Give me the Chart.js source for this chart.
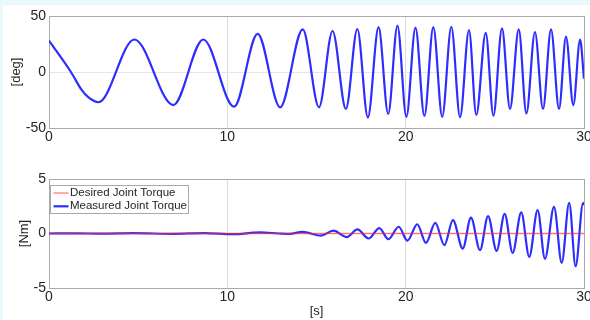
<!DOCTYPE html>
<html>
<head>
<meta charset="utf-8">
<script src="https://cdn.jsdelivr.net/npm/chart.js@4.4.1/dist/chart.umd.min.js"></script>
<style>
html,body{margin:0;padding:0;width:590px;height:320px;overflow:hidden;background:#e9f9fc;}
#sheet{position:absolute;left:3px;top:5px;width:587px;height:315px;background:#ffffff;}
canvas{position:absolute;left:0;}
#angleChart{top:0;}
#torqueChart{top:150px;}
</style>
</head>
<body>
<div id="sheet"></div>
<canvas id="angleChart" width="590" height="150"></canvas>
<canvas id="torqueChart" width="590" height="170"></canvas>
<script>
// ---- data ----
const timeTicks = [0, 10, 20, 30];
const angleTicks = [-50, 0, 50];
const torqueTicks = [-5, 0, 5];

// joint angle [deg]: turning points of the trajectory
const angleTime = [0, 1.23, 1.83, 2.2, 2.77, 4.79, 6.97, 8.65, 10.38, 11.7, 12.96, 14.23, 15.14, 15.9, 16.65,
  17.29, 17.88, 18.48, 19.02, 19.54, 20.04, 20.55, 21.05, 21.55, 22.05, 22.56, 23.05, 23.55, 23.96,
  24.49, 24.92, 25.4, 25.85, 26.34, 26.77, 27.25, 27.7, 28.15, 28.6, 28.99, 29.4, 29.78, 30];
const angleDeg = [28, 0, -16, -22.5, -27, 29, -29.5, 29, -31, 34, -31.5, 38, -31.5, 36.6, -33,
  38.4, -40.5, 40, -37.5, 41.4, -40, 39.6, -39.3, 40, -40, 40.4, -40.5, 37.5, -38.4,
  35, -39, 39, -33, 38, -37, 35.7, -33, 38, -33, 31.5, -29.5, 29, -6];

// measured joint torque [Nm]
const torqueTime = [0, 1.5, 3, 4.7, 7, 8.7, 10.3, 11.83, 12.9, 13.5, 14.2, 15.25, 15.95, 16.7, 17.3,
  17.92, 18.52, 19.03, 19.61, 20.1, 20.65, 21.14, 21.66, 22.17, 22.65, 23.2, 23.66, 24.17, 24.62,
  25.1, 25.55, 26, 26.48, 26.93, 27.4, 27.81, 28.32, 28.75, 29.17, 29.53, 29.95, 30];
const measuredTorque = [0, 0.02, -0.02, 0.03, -0.03, 0.04, -0.06, 0.1, 0, -0.04, 0.15, -0.2, 0.26, -0.33, 0.37,
  -0.46, 0.5, -0.52, 0.62, -0.66, 0.85, -0.86, 0.97, -1.07, 1.22, -1.38, 1.45, -1.53, 1.59,
  -1.59, 1.8, -1.77, 1.94, -2.14, 2.14, -2.32, 2.45, -2.69, 2.82, -3.0, 2.81, 2.6];

// desired joint torque [Nm]
const desiredTime = [0, 30];
const desiredTorque = [0, 0];

// ---- helpers ----
const toXY = (xs, ys) => xs.map((x, i) => ({x, y: ys[i]}));
const FONT = "'Liberation Sans', Arial, Helvetica, sans-serif";
const TEXT = '#262626';
const FRAME = '#a9a9a9';
const GRID = '#dcdcdc';
const BLUE = 'rgb(45,45,255)';
const RED = 'rgba(255,40,40,0.6)';

function fixTicks(values) {
  return function (scale) { scale.ticks = values.map(v => ({value: v})); };
}

function frameAxes(xmin, xmax, ymin, ymax) {
  return {
    xTop: {type: 'linear', position: 'top', min: xmin, max: xmax,
      ticks: {display: false}, grid: {display: false, drawTicks: false},
      border: {display: true, color: FRAME, width: 1},
      afterFit(s) { s.height = 0; s.paddingLeft = 0; s.paddingRight = 0; }},
    yRight: {type: 'linear', position: 'right', min: ymin, max: ymax,
      ticks: {display: false}, grid: {display: false, drawTicks: false},
      border: {display: true, color: FRAME, width: 1},
      afterFit(s) { s.width = 0; s.paddingTop = 0; s.paddingBottom = 0; }}
  };
}

function xScale(height, withTitle) {
  return {
    type: 'linear', min: 0, max: 30,
    afterBuildTicks: fixTicks(timeTicks),
    afterFit(s) { s.height = height; s.paddingLeft = 0; s.paddingRight = 0; },
    ticks: {font: {family: FONT, size: 14}, color: TEXT, padding: 1, maxRotation: 0, autoSkip: false},
    grid: {drawTicks: false, color: c => (c.tick && (c.tick.value === 10 || c.tick.value === 20)) ? GRID : 'rgba(0,0,0,0)'},
    border: {display: true, color: FRAME, width: 1},
    title: withTitle ? {display: true, text: '[s]', font: {family: FONT, size: 13}, color: TEXT, padding: {top: 0, bottom: 1}} : {display: false}
  };
}

function yScale(min, max, ticks, title, titlePad) {
  return {
    type: 'linear', min, max,
    afterBuildTicks: fixTicks(ticks),
    afterFit(s) { s.width = 49; s.paddingTop = 0; s.paddingBottom = 0; },
    ticks: {font: {family: FONT, size: 14}, color: TEXT, padding: 3},
    grid: {drawTicks: false, color: c => (c.tick && c.tick.value === 0) ? '#e6e6e6' : 'rgba(0,0,0,0)'},
    border: {display: true, color: FRAME, width: 1},
    title: {display: true, text: title, font: {family: FONT, size: 13}, color: TEXT, padding: {top: titlePad, bottom: 0}}
  };
}

const common = {
  responsive: false, animation: false, devicePixelRatio: 1,
  events: [],
  plugins: {legend: {display: false}, tooltip: {enabled: false}},
  elements: {point: {radius: 0}, line: {cubicInterpolationMode: 'monotone'}}
};

new Chart(document.getElementById('angleChart'), {
  type: 'line',
  data: {datasets: [{label: 'Joint Angle', data: toXY(angleTime, angleDeg), borderColor: BLUE, borderWidth: 2.2, fill: false}]},
  options: Object.assign({}, common, {
    layout: {padding: {top: 16, right: 6, left: 0, bottom: 0}},
    scales: Object.assign({x: xScale(22, false), y: yScale(-50, 50, angleTicks, '[deg]', 9)}, frameAxes(0, 30, -50, 50))
  })
});

const legendBox = {
  id: 'legendBox',
  afterDatasetsDraw(chart) {
    const {ctx, chartArea: a} = chart;
    const left = a.left + 1.5, top = a.top + 6.5, w = 138, h = 28;
    ctx.save();
    ctx.fillStyle = '#ffffff';
    ctx.fillRect(left, top, w, h);
    ctx.strokeStyle = FRAME;
    ctx.lineWidth = 1;
    ctx.strokeRect(left, top, w, h);
    ctx.font = '11.5px ' + FONT;
    ctx.textBaseline = 'middle';
    chart.data.datasets.forEach((ds, i) => {
      const y = top + 7.5 + i * 13.3;
      ctx.strokeStyle = ds.borderColor;
      ctx.lineWidth = ds.borderWidth;
      ctx.beginPath(); ctx.moveTo(left + 3, y); ctx.lineTo(left + 18, y); ctx.stroke();
      ctx.fillStyle = TEXT;
      ctx.fillText(ds.label, left + 19.5, y);
    });
    ctx.restore();
  }
};

new Chart(document.getElementById('torqueChart'), {
  type: 'line',
  data: {datasets: [
    {label: 'Desired Joint Torque', data: toXY(desiredTime, desiredTorque), borderColor: RED, borderWidth: 1.3, fill: false},
    {label: 'Measured Joint Torque', data: toXY(torqueTime, measuredTorque), borderColor: BLUE, borderWidth: 2.2, fill: false}
  ]},
  options: Object.assign({}, common, {
    layout: {padding: {top: 29, right: 6, left: 0, bottom: 0}},
    scales: Object.assign({x: xScale(32, true), y: yScale(-5, 5, torqueTicks, '[Nm]', 17)}, frameAxes(0, 30, -5, 5))
  }),
  plugins: [legendBox]
});
</script>
</body>
</html>
